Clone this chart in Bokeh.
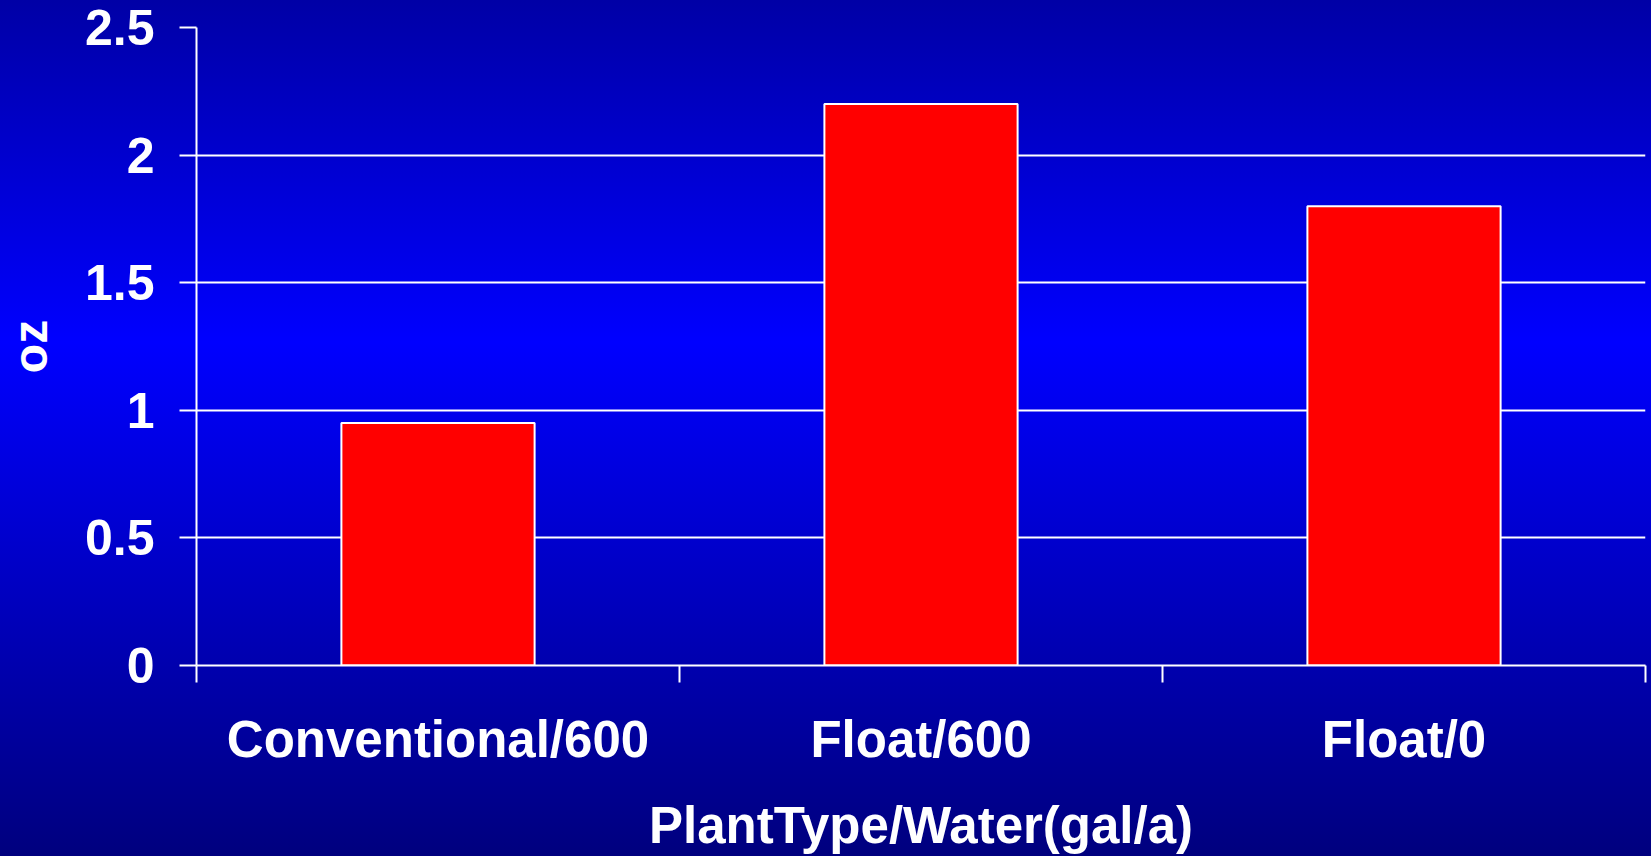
from bokeh.plotting import figure
from bokeh.models import Range1d, FixedTicker
from bokeh.embed import file_html
from bokeh.resources import INLINE

# ---- data ----
categories = ["Conventional/600", "Float/600", "Float/0"]
values = [0.95, 2.2, 1.8]
y_ticks = [0, 0.5, 1, 1.5, 2, 2.5]
y_tick_labels = ["0", "0.5", "1", "1.5", "2", "2.5"]
x_title = "PlantType/Water(gal/a)"
y_title = "oz"

xs = [i + 0.5 for i in range(len(categories))]
boundaries = list(range(len(categories) + 1))

FONT = "Liberation Sans"

p = figure(width=1651, height=856,
           x_range=Range1d(0, len(categories)), y_range=Range1d(0, 2.5),
           output_backend="svg", toolbar_location=None, title=None,
           min_border_left=195, min_border_right=6,
           min_border_top=27, min_border_bottom=190)

p.styles = {
    "background": "linear-gradient(to bottom, #0000A6 0%, #0000FF 40%, #00007E 100%)",
}
p.border_fill_alpha = 0
p.background_fill_alpha = 0
p.outline_line_color = None

p.vbar(x=xs, top=values, width=0.4, fill_color="#FF0000",
       line_color="white", line_width=2)

# grid
p.xgrid.grid_line_color = None
p.ygrid.grid_line_color = "white"
p.ygrid.grid_line_width = 2
p.ygrid.ticker = FixedTicker(ticks=y_ticks)

# y axis
ya = p.yaxis[0]
ya.ticker = FixedTicker(ticks=y_ticks)
ya.major_label_overrides = {t: l for t, l in zip(y_ticks, y_tick_labels)}
ya.axis_line_color = "white"
ya.axis_line_width = 2
ya.major_tick_line_color = "white"
ya.major_tick_line_width = 2
ya.major_tick_out = 17
ya.major_tick_in = 0
ya.minor_tick_line_color = None
ya.major_label_standoff = 25
ya.major_label_text_font = FONT
ya.major_label_text_font_style = "bold"
ya.major_label_text_font_size = "50px"
ya.major_label_text_color = "white"
ya.axis_label = y_title
ya.axis_label_text_font = FONT
ya.axis_label_text_font_style = "bold"
ya.axis_label_text_font_size = "48px"
ya.axis_label_text_color = "white"
ya.axis_label_standoff = 25

# x axis
xa = p.xaxis[0]
xa.ticker = FixedTicker(ticks=xs, minor_ticks=boundaries)
xa.major_label_overrides = {x: c for x, c in zip(xs, categories)}
xa.axis_line_color = "white"
xa.axis_line_width = 2
xa.major_tick_line_color = None
xa.major_tick_out = 0
xa.major_tick_in = 0
xa.minor_tick_line_color = "white"
xa.minor_tick_line_width = 2
xa.minor_tick_out = 17
xa.minor_tick_in = 0
xa.major_label_standoff = 28
xa.major_label_text_font = FONT
xa.major_label_text_font_style = "bold"
xa.major_label_text_font_size = "51px"
xa.major_label_text_color = "white"
xa.axis_label = x_title
xa.axis_label_text_font = FONT
xa.axis_label_text_font_style = "bold"
xa.axis_label_text_font_size = "51px"
xa.axis_label_text_color = "white"
xa.axis_label_standoff = 26

open("out.html", "w").write(file_html(p, INLINE))
